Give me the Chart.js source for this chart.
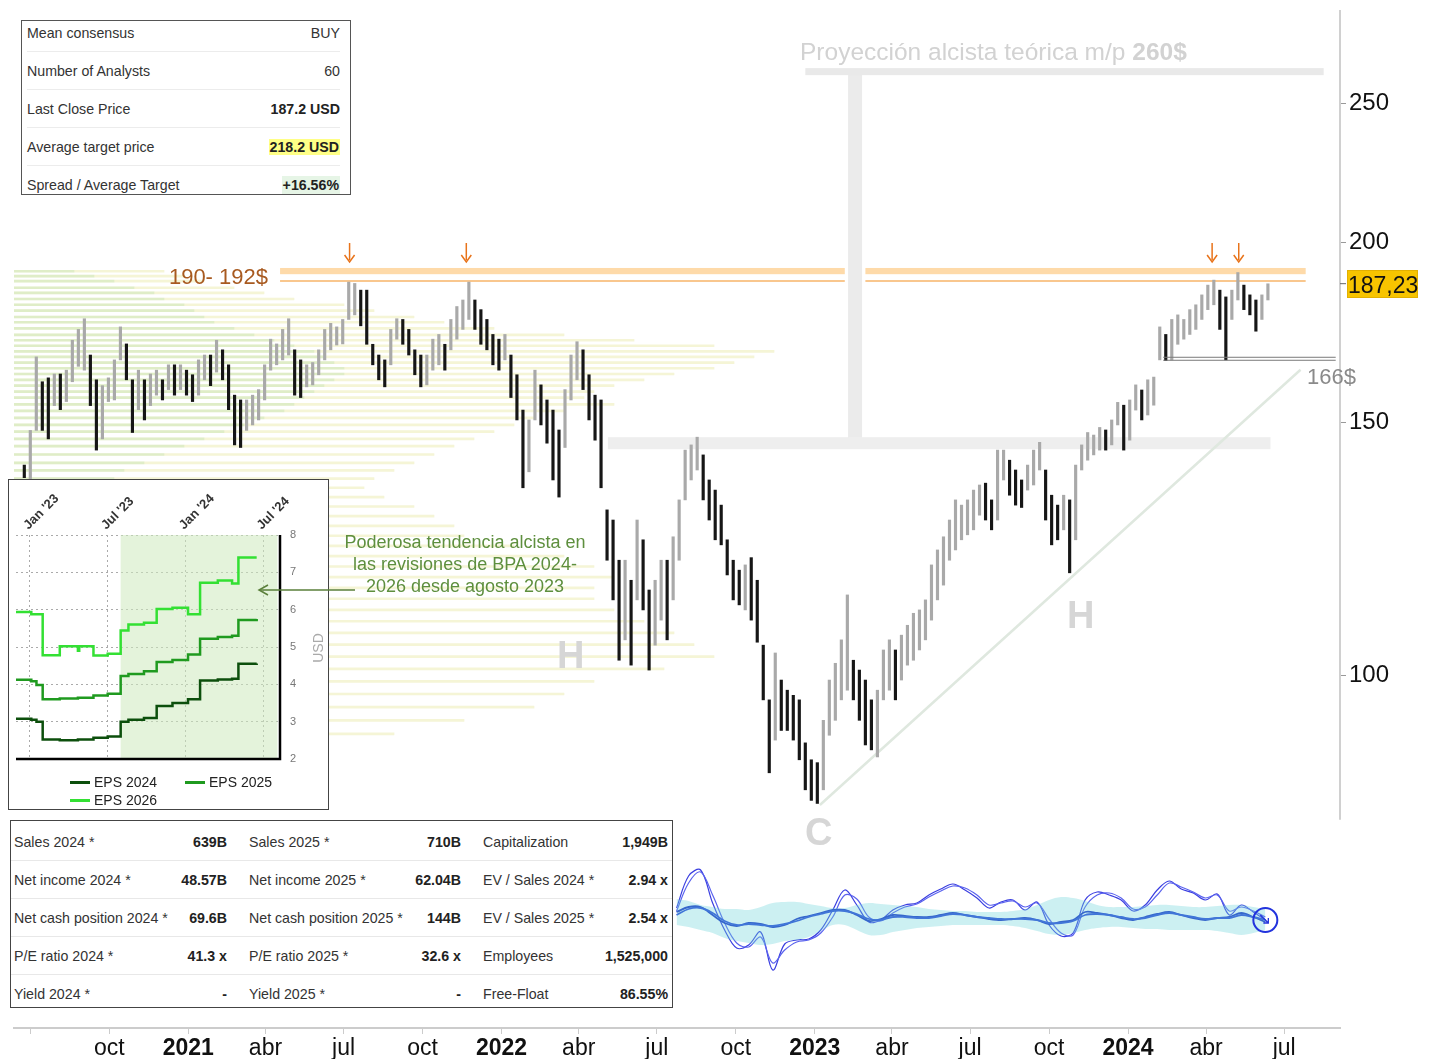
<!DOCTYPE html>
<html>
<head>
<meta charset="utf-8">
<script src="https://cdn.jsdelivr.net/npm/chart.js@4.4.1/dist/chart.umd.min.js"></script>
<style>
  body { margin: 0; background: #fff; font-family: "Liberation Sans", Arial, sans-serif; }
  #page { position: relative; width: 1432px; height: 1059px; overflow: hidden; }
  .full { position: absolute; left: 0; top: 0; }
  .abs { position: absolute; white-space: nowrap; }

  #consensus { left: 21px; top: 20px; width: 328px; height: 173px; border: 1px solid #555; background: #fff; font-size: 14.2px; color: #333; }
  #consensus .rows { margin-top: -7px; }
  #consensus .row { display: flex; justify-content: space-between; align-items: center; height: 37px; margin: 0 10px 0 5px; border-bottom: 1px solid #ececec; }
  #consensus .row:last-child { border-bottom: none; }
  #consensus b { color: #222; }
  .hl { background: #ffff86; padding: 0 1px; }
  .up { color: #1f9a2f; background: #e6f5e6; padding: 1px 1px; }

  #fund { left: 10px; top: 820px; width: 661px; height: 186px; border: 1px solid #444; background: #fff; font-size: 14.2px; color: #333; }
  #fund .rows { padding-top: 2px; }
  #fund .frow { display: grid; grid-template-columns: 3px 150px 63px 22px 160px 52px 22px 120px 65px; height: 37px; align-items: center; border-bottom: 1px solid #e8e8e8; white-space: nowrap; }
  #fund .frow:last-child { border-bottom: none; }
  #fund b { text-align: right; color: #222; }

  #inset { left: 8px; top: 479px; width: 319px; height: 329px; border: 1px solid #444; background: #fff; }
  #inset .leg { position: absolute; font-size: 14px; color: #222; line-height: 18px; }
  #inset .leg i { display: inline-block; width: 20px; height: 3px; vertical-align: middle; margin-right: 4px; position: relative; top: -1px; }
  #inset .unit { position: absolute; left: 289px; top: 160px; width: 40px; text-align: center; font-size: 14px; line-height: 16px; color: #aaa; transform: rotate(-90deg); z-index: 2; }

  .proj { left: 800px; top: 37px; font-size: 24.5px; line-height: 30px; color: #d2d2d2; }
  .zone { left: 150px; width: 118px; text-align: right; top: 263px; font-size: 22px; line-height: 28px; color: #a85a20; }
  .support { left: 1307px; top: 363px; font-size: 22px; line-height: 28px; color: #8a8a8a; }
  .last { left: 1347px; top: 270px; width: 71px; height: 28px; line-height: 28px; text-align: center; font-size: 23px; background: #f7c400; border: 1px solid #e2b000; box-sizing: border-box; color: #111; }
  .letter { font-weight: bold; font-size: 38px; line-height: 38px; color: #d6d6d6; }
  .note { left: 320px; width: 290px; top: 531px; text-align: center; font-size: 18px; line-height: 22px; color: #5e8f3e; }
</style>
</head>
<body>
<div id="page">
  <canvas id="profile" class="full" width="1432" height="1059"></canvas>
  <canvas id="price" class="full" width="1432" height="1059"></canvas>

  <div class="abs proj">Proyección alcista teórica m/p <b>260$</b></div>
  <div class="abs zone">190- 192$</div>
  <div class="abs support">166$</div>
  <div class="abs last">187,23</div>
  <div class="abs letter" style="left:557px; top:636px;">H</div>
  <div class="abs letter" style="left:1067px; top:596px;">H</div>
  <div class="abs letter" style="left:805px; top:813px;">C</div>
  <div class="abs note">Poderosa tendencia alcista en<br>las revisiones de BPA 2024-<br>2026 desde agosto 2023</div>

  <div id="consensus" class="abs">
    <div class="rows">
      <div class="row"><span>Mean consensus</span><span>BUY</span></div>
      <div class="row"><span>Number of Analysts</span><span>60</span></div>
      <div class="row"><span>Last Close Price</span><b>187.2 USD</b></div>
      <div class="row"><span>Average target price</span><b class="hl">218.2 USD</b></div>
      <div class="row"><span>Spread / Average Target</span><b class="up">+16.56%</b></div>
    </div>
  </div>

  <div id="inset" class="abs">
    <canvas id="eps" width="319" height="329" style="position:absolute;left:0;top:0;"></canvas>
    <div class="unit">USD</div>
    <div class="leg" style="left:61px; top:293px;"><i style="background:#0c4f0c"></i>EPS 2024</div>
    <div class="leg" style="left:176px; top:293px;"><i style="background:#1f9a1f"></i>EPS 2025</div>
    <div class="leg" style="left:61px; top:311px;"><i style="background:#33e033"></i>EPS 2026</div>
  </div>

  <svg class="abs" style="left:250px; top:580px;" width="110" height="20">
    <line x1="105" y1="10" x2="10" y2="10" stroke="#5a7f3a" stroke-width="1.3"/>
    <polyline points="18,5 9,10 18,15" fill="none" stroke="#5a7f3a" stroke-width="1.5"/>
  </svg>

  <div id="fund" class="abs">
    <div class="rows">
      <div class="frow"><i></i><span>Sales 2024 *</span><b>639B</b><i></i><span>Sales 2025 *</span><b>710B</b><i></i><span>Capitalization</span><b>1,949B</b></div>
      <div class="frow"><i></i><span>Net income 2024 *</span><b>48.57B</b><i></i><span>Net income 2025 *</span><b>62.04B</b><i></i><span>EV / Sales 2024 *</span><b>2.94 x</b></div>
      <div class="frow"><i></i><span>Net cash position 2024 *</span><b>69.6B</b><i></i><span>Net cash position 2025 *</span><b>144B</b><i></i><span>EV / Sales 2025 *</span><b>2.54 x</b></div>
      <div class="frow"><i></i><span>P/E ratio 2024 *</span><b>41.3 x</b><i></i><span>P/E ratio 2025 *</span><b>32.6 x</b><i></i><span>Employees</span><b>1,525,000</b></div>
      <div class="frow"><i></i><span>Yield 2024 *</span><b>-</b><i></i><span>Yield 2025 *</span><b>-</b><i></i><span>Free-Float</span><b>86.55%</b></div>
    </div>
  </div>
</div>

<script>
/* Weekly price ranges, one bar per week starting at weekStart. */
const weekStart = "2020-06-24"
const priceLow = [
  137.2, 137.0, 148.0, 148.0, 146.0, 154.0, 153.0, 155.0, 160.0, 164.0,
  163.0, 154.0, 143.4, 146.0, 155.0, 155.4, 165.7, 160.5, 147.5, 153.0,
  150.5, 154.0, 156.6, 155.4, 158.0, 156.6, 158.0, 156.6, 155.0, 156.6,
  160.5, 159.0, 162.5, 160.5, 153.0, 144.6, 144.0, 148.0, 149.3, 150.5,
  155.4, 163.0, 164.4, 165.7, 167.0, 156.6, 156.0, 158.7, 159.2, 161.8,
  165.7, 168.4, 169.7, 170.0, 176.8, 178.1, 175.0, 169.9, 164.4, 160.5,
  158.7, 164.4, 171.3, 169.9, 167.0, 161.8, 158.7, 159.2, 163.0, 164.4,
  163.0, 168.4, 171.3, 174.0, 176.8, 174.0, 169.9, 168.4, 164.4, 163.0,
  165.7, 156.0, 150.5, 135.0, 138.5, 150.5, 149.3, 145.0, 136.7, 133.0,
  144.0, 155.4, 160.5, 158.0, 150.5, 145.7, 135.0, 120.2, 112.8, 102.4,
  105.8, 101.6, 112.8, 111.0, 100.8, 104.9, 109.2, 105.8, 112.8, 120.2,
  132.4, 136.7, 138.9, 132.4, 128.2, 124.2, 123.2, 117.4, 112.8, 111.9,
  111.0, 109.2, 105.4, 96.1, 85.5, 90.1, 91.5, 91.5, 90.1, 87.3,
  83.2, 81.8, 81.4, 83.2, 90.8, 93.0, 96.1, 97.6, 96.1, 93.0,
  89.4, 88.7, 87.7, 96.1, 97.6, 96.1, 99.2, 101.6, 102.4, 104.1,
  105.8, 109.2, 112.8, 115.5, 120.2, 122.2, 124.2, 125.2, 126.2, 129.2,
  128.2, 126.2, 128.2, 136.7, 133.4, 131.3, 130.8, 134.5, 135.6, 138.9,
  128.2, 123.2, 124.2, 126.2, 117.8, 124.2, 138.9, 141.1, 142.3, 143.4,
  143.4, 144.6, 149.3, 143.4, 145.7, 152.9, 150.5, 151.7, 154.1, 165.7,
  165.5, 165.7, 169.9, 171.3, 172.6, 174.0, 176.8, 179.6, 181.0, 174.0,
  165.7, 176.8, 182.4, 179.6, 178.1, 173.5, 176.8, 182.4
]
const priceHigh = [
  140.0, 148.0, 166.5, 160.0, 161.0, 162.0, 162.0, 163.0, 171.0, 174.0,
  177.0, 167.0, 160.5, 159.0, 161.0, 165.7, 174.7, 170.0, 160.5, 163.0,
  160.5, 162.0, 163.0, 160.5, 164.4, 164.4, 164.4, 163.0, 161.8, 165.7,
  167.0, 167.0, 171.0, 168.4, 164.4, 156.6, 155.4, 155.4, 156.6, 158.0,
  164.4, 171.3, 170.0, 174.0, 177.0, 168.4, 165.7, 164.4, 165.0, 168.4,
  174.0, 175.7, 174.7, 176.8, 187.7, 187.3, 185.3, 185.3, 169.9, 167.0,
  165.7, 174.0, 177.0, 176.8, 174.0, 168.4, 167.0, 167.0, 171.3, 172.6,
  169.9, 176.8, 180.5, 182.4, 187.7, 182.4, 179.6, 176.8, 172.6, 171.3,
  172.6, 167.0, 161.8, 152.9, 150.5, 163.0, 159.2, 155.4, 152.9, 148.1,
  158.0, 167.0, 170.6, 168.4, 161.8, 156.6, 155.4, 130.3, 128.2, 120.2,
  120.2, 116.4, 128.2, 124.2, 114.6, 116.4, 120.2, 120.2, 124.8, 132.4,
  143.4, 144.6, 146.4, 142.3, 136.7, 134.5, 131.3, 124.2, 120.2, 118.3,
  119.3, 120.7, 116.4, 104.9, 96.1, 103.6, 99.2, 97.6, 96.8, 96.1,
  89.7, 87.3, 86.9, 93.0, 99.2, 101.9, 105.8, 113.7, 102.4, 100.8,
  99.2, 96.1, 97.6, 104.1, 105.8, 104.1, 106.6, 108.3, 110.4, 111.0,
  112.8, 119.3, 122.2, 124.8, 128.2, 132.4, 131.3, 132.4, 134.5, 135.6,
  136.0, 132.4, 143.4, 143.4, 141.1, 138.9, 136.7, 140.0, 143.4, 145.2,
  138.9, 133.4, 131.3, 133.4, 132.4, 140.0, 144.6, 147.5, 146.9, 148.7,
  148.1, 150.5, 154.8, 154.1, 155.4, 159.2, 157.9, 160.5, 161.2, 174.7,
  172.6, 176.8, 178.1, 176.8, 179.6, 181.0, 183.9, 186.8, 188.3, 185.3,
  183.3, 185.3, 190.6, 186.8, 183.9, 182.4, 183.9, 187.2
]

/* Axis ranges and ticks. */
const axisStart = "2020-06-12"
const axisEnd = "2024-09-04"
const priceMin = 56.8
const priceMax = 290.3
const priceTicks = [100, 150, 200, 250]
const quarterDates = ["2020-07-01", "2020-10-01", "2021-01-01", "2021-04-01", "2021-07-01", "2021-10-01",
  "2022-01-01", "2022-04-01", "2022-07-01", "2022-10-01", "2023-01-01", "2023-04-01", "2023-07-01",
  "2023-10-01", "2024-01-01", "2024-04-01", "2024-07-01"]
const quarterLabels = ["", "oct", "2021", "abr", "jul", "oct", "2022", "abr", "jul", "oct", "2023", "abr", "jul",
  "oct", "2024", "abr", "jul"]

/* Annotation levels. */
const lastPrice = 187.23
const zoneLow = 190.1
const zoneHigh = 192.0
const zoneLine = 188.0
const zoneSegments = [["2021-04-18", "2023-02-05"], ["2023-03-01", "2024-07-26"]]
const peakDates = ["2021-07-08", "2021-11-21", "2024-04-08", "2024-05-09"]
const supportPrice = 166
const supportDates = ["2024-02-11", "2024-08-30"]
const targetPrice = 263
const basePrice = 145
const targetDates = ["2022-12-21", "2024-08-16"]
const baseDates = ["2022-05-05", "2024-06-15"]
const projectionDate = "2023-02-17"
const trendFrom = ["2023-01-07", 81.2]
const trendTo = ["2024-07-20", 163.1]

/* Volume by price. */
const profileLevels = [191.0, 189.5, 188.0, 186.0, 184.5, 182.7, 181.0, 179.3, 177.5, 176.0,
  174.3, 172.5, 171.0, 169.5, 168.0, 166.5, 165.0, 163.5, 162.0, 160.5,
  159.0, 157.5, 156.0, 154.3, 152.7, 151.0, 149.3, 147.7, 146.0, 144.3,
  142.4, 140.5, 138.8, 137.0, 135.0, 133.0, 131.0, 129.0, 127.0, 125.0,
  123.0, 121.0, 119.0, 117.0, 115.0, 113.0, 111.0, 109.0, 107.0, 105.0,
  103.0, 101.0, 99.0, 97.0, 95.0, 93.0, 91.0, 89.0]
const profileTotal = [15, 17, 19, 22, 25, 28, 33, 36, 40, 43,
  48, 55, 62, 70, 76, 74, 72, 70, 66, 63,
  60, 58, 57, 60, 55, 52, 50, 48, 46, 44,
  42, 40, 38, 36, 35, 37, 40, 42, 44, 45,
  50, 55, 58, 60, 58, 58, 60, 63, 66, 68,
  70, 65, 58, 55, 52, 45, 38, 30]
const profileGreen = [6, 8, 10, 12, 14, 15, 17, 18, 19, 20,
  22, 24, 26, 28, 30, 31, 32, 33, 33, 32,
  31, 30, 29, 28, 27, 25, 23, 21, 19, 17,
  15, 13, 11, 10, 9, 9, 10, 10, 10, 10,
  10, 11, 11, 12, 12, 12, 12, 13, 13, 13,
  13, 12, 11, 10, 10, 9, 8, 7]

/* Oscillator, one value every two weeks from oscStart. */
const oscStart = "2022-07-24"
const oscFast1 = [67, 99, 105, 72, 45, 27, 30, 43, 5, 31, 35, 36, 45, 65, 85, 70, 53, 55, 65, 70,
  72, 80, 86, 91, 85, 77, 67, 73, 75, 65, 73, 50, 39, 42, 75, 83, 80, 75, 64, 70,
  85, 94, 86, 82, 75, 81, 60, 70, 63, 55]
const oscFast2 = [64, 92, 103, 80, 52, 32, 28, 38, 12, 25, 33, 35, 42, 58, 80, 76, 58, 54, 62, 68,
  71, 78, 84, 89, 87, 80, 70, 72, 74, 68, 72, 56, 42, 40, 68, 80, 82, 77, 66, 68,
  80, 92, 88, 83, 77, 80, 64, 68, 64, 58]
const oscSlow1 = [63, 68, 68, 60, 52, 49, 52, 51, 48, 50, 56, 59, 62, 65, 65, 60, 54, 56, 60, 59,
  58, 58, 60, 62, 60, 58, 56, 55, 56, 57, 55, 51, 53, 55, 63, 62, 60, 57, 55, 58,
  61, 63, 60, 57, 55, 57, 58, 62, 58, 53]
const oscSlow2 = [60, 66, 67, 62, 54, 50, 51, 50, 49, 51, 54, 58, 61, 64, 64, 61, 56, 55, 58, 58,
  57, 57, 59, 61, 60, 58, 57, 56, 56, 56, 55, 52, 52, 54, 60, 61, 60, 58, 56, 57,
  60, 62, 60, 58, 56, 57, 57, 60, 58, 55]
const oscUpper = [76, 74, 70, 68, 66, 66, 65, 68, 72, 73, 73, 71, 69, 67, 67, 70, 72, 71, 70, 69,
  68, 66, 65, 64, 64, 63, 63, 63, 64, 66, 70, 75, 78, 77, 74, 70, 68, 68, 68, 69,
  70, 70, 69, 68, 68, 69, 70, 70, 68, 66]
const oscLower = [50, 48, 45, 42, 37, 34, 32, 30, 31, 34, 35, 38, 44, 50, 50, 45, 40, 40, 43, 45,
  47, 48, 49, 50, 50, 50, 50, 50, 49, 47, 44, 41, 40, 42, 45, 47, 48, 48, 47, 46,
  46, 45, 45, 45, 45, 44, 42, 40, 42, 45]
const oscMin = -53
const oscMax = 965

/* EPS revisions inset, x in months from Jan 2023. */
const epsMonths = [-1.1, 0.1, 0.5, 0.98, 2.3, 3.7, 3.8, 4.9, 6.0, 7.0, 7.6, 8.8, 9.78, 11.0, 12.2, 13.13, 14.5, 15.6, 16.09, 17.5]
const eps2024 = [3.08, 3.05, 3.0, 2.52, 2.5, 2.52, 2.52, 2.57, 2.6, 3.0, 3.05, 3.1, 3.42, 3.5, 3.6, 4.1, 4.13, 4.15, 4.55, 4.56]
const eps2025 = [4.12, 4.08, 3.98, 3.6, 3.62, 3.64, 3.64, 3.7, 3.75, 4.22, 4.28, 4.35, 4.6, 4.65, 4.8, 5.22, 5.27, 5.3, 5.72, 5.75]
const eps2026 = [5.94, 5.88, 5.88, 4.78, 5.02, 4.9, 5.02, 4.77, 4.82, 5.44, 5.6, 5.65, 6.02, 6.05, 5.88, 6.72, 6.78, 6.7, 7.4, 7.4]
const epsTickMonths = [0, 6, 12, 18]
const epsTickLabels = ["Jan '23", "Jul '23", "Jan '24", "Jul '24"]
const epsShade = [7.0, 19.1]

/* Days since 2020-01-01. */
const dayOf = s => (Date.parse(s) - Date.parse("2020-01-01")) / 864e5

const weekDays = priceLow.map((v, i) => dayOf(weekStart) + 7 * i)
const oscDays = oscFast1.map((v, i) => dayOf(oscStart) + 14 * i)
const barColors = priceHigh.map((h, i) =>
  i > 0 && h + priceLow[i] > priceHigh[i - 1] + priceLow[i - 1] ? "#a9a9a9" : "#161616")

const font = "'Liberation Sans', Arial, sans-serif"

/* Keep chart areas fixed, whatever the label sizes. */
const noPad = s => { s.paddingTop = 0; s.paddingBottom = 0; s.paddingLeft = 0; s.paddingRight = 0 }

/* Volume profile behind the price chart. */
new Chart(document.getElementById("profile"), {
  type: "bar",
  data: {
    datasets: [{
      data: profileLevels.map((p, i) => ({ x: profileGreen[i], y: p })),
      backgroundColor: "rgba(190, 226, 178, 0.4)",
      barThickness: 2,
      grouped: false,
      order: 1
    }, {
      data: profileLevels.map((p, i) => ({ x: profileTotal[i], y: p })),
      backgroundColor: "rgba(232, 232, 165, 0.45)",
      barThickness: 2,
      grouped: false,
      order: 2
    }]
  },
  options: {
    indexAxis: "y",
    responsive: false,
    animation: false,
    devicePixelRatio: 1,
    layout: { padding: { left: 14, right: 92, top: 10, bottom: 31 } },
    plugins: { legend: { display: false }, tooltip: { enabled: false } },
    scales: {
      x: { type: "linear", min: 0, max: 132.6, display: false },
      y: { type: "logarithmic", min: priceMin, max: priceMax, display: false }
    }
  }
})

/* Shapes and levels drawn on the price chart. */
const annotations = {
  id: "annotations",
  beforeDatasetsDraw(chart) {
    const { ctx, chartArea, scales: { x, y } } = chart
    ctx.save()

    /* theoretical projection */
    ctx.fillStyle = "#ebebeb"
    const tY = y.getPixelForValue(targetPrice)
    const bY = y.getPixelForValue(basePrice)
    const pX = x.getPixelForValue(dayOf(projectionDate))
    ctx.fillRect(pX - 7, tY, 14, bY - tY)
    ctx.fillStyle = "#e9e9e9"
    ctx.fillRect(x.getPixelForValue(dayOf(targetDates[0])), tY - 3.5,
      x.getPixelForValue(dayOf(targetDates[1])) - x.getPixelForValue(dayOf(targetDates[0])), 7)
    ctx.fillStyle = "#eeeeee"
    ctx.fillRect(x.getPixelForValue(dayOf(baseDates[0])), bY - 6,
      x.getPixelForValue(dayOf(baseDates[1])) - x.getPixelForValue(dayOf(baseDates[0])), 12)

    /* resistance zone */
    zoneSegments.forEach(seg => {
      const x0 = x.getPixelForValue(dayOf(seg[0]))
      const x1 = x.getPixelForValue(dayOf(seg[1]))
      const zTop = y.getPixelForValue(zoneHigh)
      const zBot = y.getPixelForValue(zoneLow)
      ctx.fillStyle = "rgba(253, 205, 140, 0.75)"
      ctx.fillRect(x0, zTop, x1 - x0, zBot - zTop)
      ctx.strokeStyle = "#f7b568"
      ctx.lineWidth = 1.5
      ctx.beginPath()
      ctx.moveTo(x0, y.getPixelForValue(zoneLine))
      ctx.lineTo(x1, y.getPixelForValue(zoneLine))
      ctx.stroke()
    })

    /* trend line */
    ctx.strokeStyle = "#dfe8df"
    ctx.lineWidth = 2.5
    ctx.beginPath()
    ctx.moveTo(x.getPixelForValue(dayOf(trendFrom[0])), y.getPixelForValue(trendFrom[1]))
    ctx.lineTo(x.getPixelForValue(dayOf(trendTo[0])), y.getPixelForValue(trendTo[1]))
    ctx.stroke()

    /* right axis line */
    ctx.strokeStyle = "#d0d0d0"
    ctx.lineWidth = 2
    ctx.beginPath()
    ctx.moveTo(chartArea.right, chartArea.top)
    ctx.lineTo(chartArea.right, y.getPixelForValue(79.3))
    ctx.stroke()
    ctx.restore()
  },
  afterDatasetsDraw(chart) {
    const { ctx, chartArea, scales: { x, y, yo } } = chart
    ctx.save()

    /* support line */
    const sY = y.getPixelForValue(supportPrice)
    ctx.strokeStyle = "#7a7a7a"
    ctx.lineWidth = 1
    ;[sY - 1.5, sY + 1.5].forEach(py => {
      ctx.beginPath()
      ctx.moveTo(x.getPixelForValue(dayOf(supportDates[0])), py)
      ctx.lineTo(x.getPixelForValue(dayOf(supportDates[1])), py)
      ctx.stroke()
    })

    /* peak arrows */
    ctx.strokeStyle = "#e8731a"
    ctx.lineWidth = 1.5
    const tip = y.getPixelForValue(zoneHigh) - 6
    peakDates.forEach(d => {
      const px = x.getPixelForValue(dayOf(d))
      ctx.beginPath()
      ctx.moveTo(px, tip - 19)
      ctx.lineTo(px, tip - 2)
      ctx.stroke()
      ctx.beginPath()
      ctx.moveTo(px - 5, tip - 7)
      ctx.lineTo(px, tip)
      ctx.lineTo(px + 5, tip - 7)
      ctx.stroke()
    })

    /* last price tick */
    ctx.strokeStyle = "#666"
    ctx.lineWidth = 1
    const lY = y.getPixelForValue(lastPrice)
    ctx.beginPath()
    ctx.moveTo(chartArea.right, lY)
    ctx.lineTo(chartArea.right + 6, lY)
    ctx.stroke()

    /* circle at the last oscillator reading */
    const cx = x.getPixelForValue(oscDays[oscDays.length - 1])
    const cy = yo.getPixelForValue(oscFast1[oscFast1.length - 1])
    ctx.strokeStyle = "#2233dd"
    ctx.lineWidth = 2
    ctx.beginPath()
    ctx.arc(cx, cy, 12, 0, Math.PI * 2)
    ctx.stroke()
    ctx.lineWidth = 1.3
    ctx.beginPath()
    ctx.moveTo(cx - 5, cy - 5)
    ctx.lineTo(cx + 3, cy + 3)
    ctx.moveTo(cx + 3, cy - 2)
    ctx.lineTo(cx + 3, cy + 3)
    ctx.lineTo(cx - 2, cy + 3)
    ctx.stroke()
    ctx.restore()
  }
}

const oscLine = (values, color, width) => ({
  type: "line",
  data: values.map((v, i) => ({ x: oscDays[i], y: v })),
  borderColor: color,
  borderWidth: width,
  pointRadius: 0,
  tension: 0.35,
  fill: false,
  yAxisID: "yo"
})

new Chart(document.getElementById("price"), {
  type: "bar",
  data: {
    datasets: [{
      type: "bar",
      data: weekDays.map((d, i) => ({ x: d, y: [priceLow[i], priceHigh[i]] })),
      backgroundColor: barColors,
      barThickness: 2.5,
      yAxisID: "y"
    }, {
      type: "line",
      data: oscUpper.map((v, i) => ({ x: oscDays[i], y: v })),
      borderWidth: 0,
      pointRadius: 0,
      tension: 0.35,
      backgroundColor: "rgba(110, 212, 218, 0.35)",
      fill: "+1",
      yAxisID: "yo"
    }, {
      type: "line",
      data: oscLower.map((v, i) => ({ x: oscDays[i], y: v })),
      borderWidth: 0,
      pointRadius: 0,
      tension: 0.35,
      fill: false,
      yAxisID: "yo"
    },
    oscLine(oscSlow2, "#2a44d8", 1.8),
    oscLine(oscSlow1, "#1a2ec4", 1.8),
    oscLine(oscFast2, "#5a62ee", 1.2),
    oscLine(oscFast1, "#3a3ee0", 1.2)]
  },
  options: {
    responsive: false,
    animation: false,
    devicePixelRatio: 1,
    layout: { padding: { left: 14, top: 10, right: 0, bottom: 0 } },
    plugins: { legend: { display: false }, tooltip: { enabled: false } },
    scales: {
      x: {
        type: "linear",
        min: dayOf(axisStart),
        max: dayOf(axisEnd),
        offset: false,
        afterBuildTicks: s => { s.ticks = quarterDates.map(d => ({ value: dayOf(d) })) },
        afterFit: s => { s.height = 31; noPad(s) },
        ticks: {
          autoSkip: false,
          maxRotation: 0,
          padding: 1,
          color: "#111",
          callback: (v, i) => quarterLabels[i],
          font: c => ({ family: font, size: 23, weight: /^\d/.test(quarterLabels[c.index] || "") ? "bold" : "normal" })
        },
        grid: { offset: false, drawOnChartArea: false, drawTicks: true, tickLength: 6, color: "#cccccc" },
        border: { color: "#cccccc", width: 2 }
      },
      y: {
        type: "logarithmic",
        position: "right",
        min: priceMin,
        max: priceMax,
        afterBuildTicks: s => { s.ticks = priceTicks.map(v => ({ value: v })) },
        afterFit: s => { s.width = 92; noPad(s) },
        ticks: { color: "#111", padding: 3, font: { family: font, size: 24 }, callback: v => String(v) },
        grid: { drawOnChartArea: false, drawTicks: true, tickLength: 6, color: "#999" },
        border: { display: false }
      },
      yo: { type: "linear", display: false, min: oscMin, max: oscMax }
    }
  },
  plugins: [annotations]
})

/* EPS revisions inset. */
const epsDecor = {
  id: "epsDecor",
  beforeDatasetsDraw(chart) {
    const { ctx, chartArea, scales: { x } } = chart
    ctx.save()
    ctx.fillStyle = "rgba(205, 234, 190, 0.55)"
    const x0 = x.getPixelForValue(epsShade[0])
    const x1 = x.getPixelForValue(epsShade[1])
    ctx.fillRect(x0, chartArea.top, x1 - x0, chartArea.bottom - chartArea.top)
    ctx.restore()
  },
  afterDraw(chart) {
    const { ctx, chartArea } = chart
    ctx.save()
    ctx.strokeStyle = "#000"
    ctx.lineWidth = 2.5
    ctx.beginPath()
    ctx.moveTo(chartArea.left, chartArea.bottom)
    ctx.lineTo(chartArea.right, chartArea.bottom)
    ctx.lineTo(chartArea.right, chartArea.top)
    ctx.stroke()
    ctx.restore()
  }
}

const epsLine = (label, values, color) => ({
  label,
  data: values.map((v, i) => ({ x: epsMonths[i], y: v })),
  borderColor: color,
  borderWidth: 2.5,
  pointRadius: 0,
  stepped: true,
  fill: false
})

new Chart(document.getElementById("eps"), {
  type: "line",
  data: {
    datasets: [
      epsLine("EPS 2024", eps2024, "#0c4f0c"),
      epsLine("EPS 2025", eps2025, "#1f9a1f"),
      epsLine("EPS 2026", eps2026, "#33e033")
    ]
  },
  options: {
    responsive: false,
    animation: false,
    devicePixelRatio: 1,
    layout: { padding: { left: 7, top: 0, right: 0, bottom: 50 } },
    plugins: { legend: { display: false }, tooltip: { enabled: false } },
    scales: {
      x: {
        type: "linear",
        position: "top",
        min: -1.08,
        max: 19.3,
        afterBuildTicks: s => { s.ticks = epsTickMonths.map(v => ({ value: v })) },
        afterFit: s => { s.height = 55; noPad(s) },
        ticks: {
          autoSkip: false,
          minRotation: 45,
          maxRotation: 45,
          padding: 2,
          labelOffset: 7,
          color: "#333",
          font: { family: font, size: 13, weight: "bold" },
          callback: (v, i) => epsTickLabels[i]
        },
        grid: { color: "#aaa", drawTicks: false },
        border: { display: false, dash: [2, 3] }
      },
      y: {
        position: "right",
        min: 2,
        max: 8,
        afterFit: s => { s.width = 48; noPad(s) },
        ticks: { stepSize: 1, color: "#777", padding: 10, font: { family: font, size: 11 } },
        grid: { color: "#aaa", drawTicks: false },
        border: { display: false, dash: [2, 3] }
      }
    }
  },
  plugins: [epsDecor]
})
</script>
</body>
</html>
